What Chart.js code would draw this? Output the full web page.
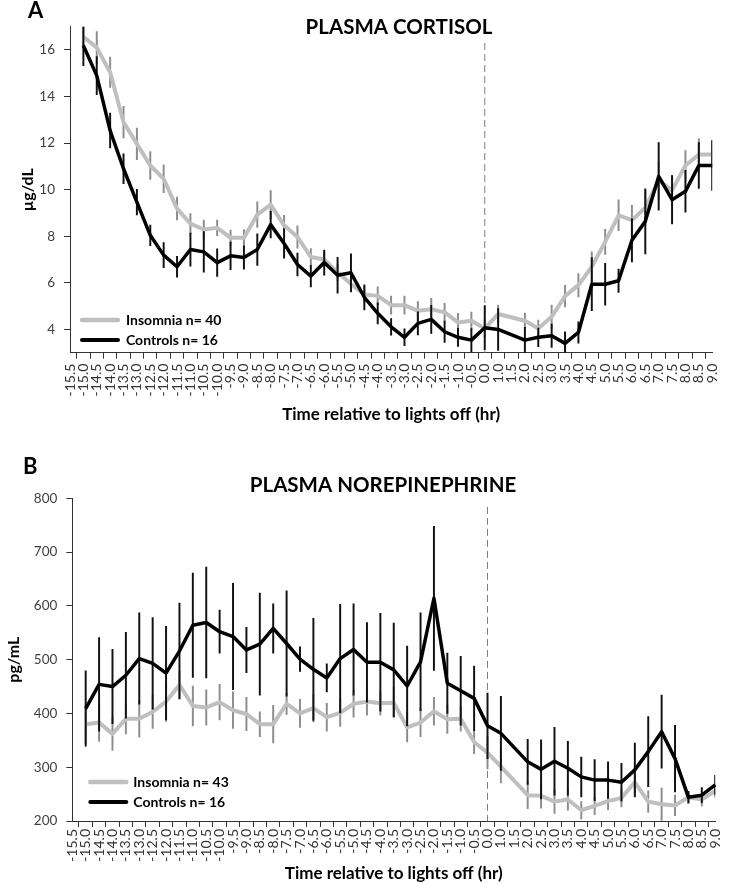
<!DOCTYPE html>
<html>
<head>
<meta charset="utf-8">
<script src="https://cdn.jsdelivr.net/npm/chart.js@4.4.1/dist/chart.umd.min.js"></script>
<style>
  body { margin: 0; background: #fff; }
  #wrap { position: relative; width: 734px; height: 884px; overflow: hidden; }
  #cortisolChart { position: absolute; left: 0; top: 0; }
  #norepiChart { position: absolute; left: 0; top: 440px; }
</style>
</head>
<body>
<div id="wrap">
  <canvas id="cortisolChart" width="734" height="430"></canvas>
  <canvas id="norepiChart" width="734" height="444"></canvas>
</div>
<script>
// x categories (hours relative to lights off) - note there is no 0.5
var hours = ['-15.5', '-15.0', '-14.5', '-14.0', '-13.5', '-13.0', '-12.5', '-12.0', '-11.5', '-11.0',
  '-10.5', '-10.0', '-9.5', '-9.0', '-8.5', '-8.0', '-7.5', '-7.0', '-6.5', '-6.0',
  '-5.5', '-5.0', '-4.5', '-4.0', '-3.5', '-3.0', '-2.5', '-2.0', '-1.5', '-1.0',
  '-0.5', '0.0', '1.0', '1.5', '2.0', '2.5', '3.0', '3.5', '4.0', '4.5',
  '5.0', '5.5', '6.0', '6.5', '7.0', '7.5', '8.0', '8.5', '9.0'];

// panel A - plasma cortisol (ug/dL), mean and SEM
var cortisolInsomnia = [null, 16.57, 16.1, 15.04, 12.9, 11.97, 11.04, 10.47, 9.19, 8.54, 8.29,
  8.36, 7.94, 7.94, 8.93, 9.36, 8.47, 7.97, 7.11, 7.0, 6.45,
  5.95, 5.5, 5.44, 5.04, 5.04, 4.8, 4.87, 4.73, 4.3, 4.37,
  4.04, 4.66, null, 4.37, 4.04, 4.54, 5.43, 5.9, 6.69, 7.76,
  8.9, 8.69, 9.23, 10.4, 9.97, 11.04, 11.51, 11.51];
var cortisolInsomniaSem = [null, 0.45, 0.69, 0.65, 0.68, 0.68, 0.6, 0.6, 0.49, 0.43, 0.4,
  0.33, 0.33, 0.35, 0.55, 0.6, 0.43, 0.48, 0.36, 0.32, 0.36,
  0.29, 0.35, 0.39, 0.39, 0.39, 0.39, 0.46, 0.39, 0.39, 0.37,
  0.36, 0.39, null, 0.33, 0.36, 0.5, 0.46, 0.5, 0.64, 0.54,
  0.66, 0.64, 0.75, 0.8, 0.64, 0.64, 0.68, 0.6];
var cortisolControls = [null, 16.19, 14.9, 12.54, 10.9, 9.47, 8.04, 7.19, 6.69, 7.43, 7.33,
  6.87, 7.16, 7.09, 7.43, 8.5, 7.69, 6.79, 6.29, 6.87, 6.33,
  6.43, 5.38, 4.69, 4.11, 3.66, 4.26, 4.43, 3.9, 3.66, 3.54,
  4.07, 4.0, null, 3.54, 3.66, 3.73, 3.4, 3.87, 5.94, 5.94,
  6.09, 7.83, 8.64, 10.57, 9.57, 9.93, 11.04, 11.04];
var cortisolControlsSem = [null, 0.86, 0.82, 0.75, 0.64, 0.55, 0.44, 0.54, 0.45, 0.71, 0.87,
  0.59, 0.59, 0.5, 0.68, 0.57, 0.63, 0.49, 0.46, 0.54, 0.77,
  0.82, 0.54, 0.45, 0.36, 0.36, 0.5, 0.6, 0.46, 0.39, 0.5,
  0.95, 0.9, null, 0.55, 0.4, 0.5, 0.5, 0.46, 1.14, 0.9,
  0.5, 0.93, 1.4, 1.45, 1.04, 0.9, 0.98, 1.07];
var cortisolTicks = [4, 6, 8, 10, 12, 14, 16];

// panel B - plasma norepinephrine (pg/mL), mean and SEM
var norepiInsomnia = [null, 380, 383, 362, 390, 390, 403, 422, 453, 414, 411,
  421, 406, 399, 380, 380, 418, 400, 410, 393, 401,
  418, 422, 419, 420, 374, 383, 404, 389, 390, 347,
  327, 301, null, 248, 247, 236, 240, 220, 228, 237,
  243, 272, 236, 231, 229, 244, 240, 256];
var norepiInsomniaSem = [null, 35, 35, 31, 28, 34, 31, 37, 25, 37, 33,
  33, 34, 31, 23, 35, 20, 26, 26, 26, 25,
  25, 25, 22, 28, 27, 26, 26, 26, 23, 22,
  30, 30, null, 25, 23, 22, 20, 16, 16, 16,
  17, 19, 20, 30, 19, 10, 12, 12];
var norepiControls = [null, 409, 454, 450, 471, 502, 493, 475, 516, 564, 569,
  552, 543, 518, 529, 558, 530, 501, 482, 466, 502,
  519, 495, 495, 481, 451, 496, 614, 456, 442, 428,
  377, 363, null, 310, 296, 311, 298, 282, 276, 276,
  272, 295, 329, 366, 316, 244, 248, 267];
var norepiControlsSem = [null, 70, 87, 69, 80, 85, 85, 87, 89, 97, 103,
  40, 99, 42, 95, 46, 98, 23, 95, 26, 101,
  85, 74, 91, 87, 74, 91, 134, 56, 64, 60,
  61, 69, null, 42, 55, 63, 50, 37, 38, 34,
  35, 50, 65, 68, 62, 11, 14, 18];
var norepiTicks = [200, 300, 400, 500, 600, 700, 800];

var FONT = 'Lato';
var GREY = '#bfbfbf';

// turn mean + sem into [low, high] for floating bars
function errorBars(values, sems) {
  return values.map(function (v, i) {
    if (v === null || sems[i] === null) return null;
    return [v - sems[i], v + sems[i]];
  });
}

// dashed vertical line at lights off
var lightsOff = {
  id: 'lightsOff',
  beforeDatasetsDraw: function (chart, args, opts) {
    var x = chart.scales.x.getPixelForValue(chart.data.labels.indexOf(opts.at));
    var top = chart.scales.y.getPixelForValue(opts.from);
    var ctx = chart.ctx;
    ctx.save();
    ctx.strokeStyle = '#7f7f7f';
    ctx.lineWidth = 1;
    ctx.setLineDash([7, 4]);
    ctx.beginPath();
    ctx.moveTo(x, top);
    ctx.lineTo(x, chart.chartArea.bottom);
    ctx.stroke();
    ctx.restore();
  }
};

// legend drawn inside the plot, bottom left
var insideLegend = {
  id: 'insideLegend',
  afterDatasetsDraw: function (chart, args, opts) {
    var ctx = chart.ctx;
    var area = chart.chartArea;
    ctx.save();
    ctx.font = 'bold 14px ' + FONT;
    ctx.textBaseline = 'middle';
    ctx.textAlign = 'left';
    ctx.lineCap = 'round';
    opts.items.forEach(function (idx, n) {
      var ds = chart.data.datasets[idx];
      var y = area.bottom - opts.rows[n];
      var x0 = area.left + opts.x;
      ctx.strokeStyle = ds.borderColor;
      ctx.lineWidth = ds.borderWidth + 0.5;
      ctx.beginPath();
      ctx.moveTo(x0, y);
      ctx.lineTo(x0 + opts.len, y);
      ctx.stroke();
      ctx.fillStyle = '#000';
      ctx.fillText(ds.label, x0 + opts.len + opts.textGap, y);
    });
    ctx.restore();
  }
};

// panel letter and title
var panelText = {
  id: 'panelText',
  afterDraw: function (chart, args, opts) {
    var ctx = chart.ctx;
    ctx.save();
    ctx.fillStyle = '#000';
    ctx.textBaseline = 'middle';
    ctx.textAlign = 'left';
    ctx.font = 'bold 22px ' + FONT;
    ctx.fillText(opts.letter, opts.letterX, opts.letterY);
    ctx.textAlign = 'center';
    ctx.font = 'bold 20.5px ' + FONT;
    ctx.fillText(opts.title, opts.titleX, opts.titleY);
    ctx.restore();
  }
};

function makeChart(id, p) {
  var datasets = [
    { type: 'line', label: p.controlsLabel, data: p.controls, borderColor: '#000', borderWidth: 3.5,
      pointRadius: 0, spanGaps: true, borderJoinStyle: 'round', tension: 0 },
    { type: 'bar', label: 'controls sem', data: errorBars(p.controls, p.controlsSem), backgroundColor: '#111',
      barThickness: 1.3, grouped: false, borderWidth: 0 },
    { type: 'line', label: p.insomniaLabel, data: p.insomnia, borderColor: GREY, borderWidth: 4,
      pointRadius: 0, spanGaps: true, borderJoinStyle: 'round', tension: 0 },
    { type: 'bar', label: 'insomnia sem', data: errorBars(p.insomnia, p.insomniaSem), backgroundColor: '#8c8c8c',
      barThickness: 1.3, grouped: false, borderWidth: 0 }
  ];

  return new Chart(document.getElementById(id), {
    type: 'line',
    data: { labels: hours, datasets: datasets },
    plugins: [lightsOff, insideLegend, panelText],
    options: {
      responsive: false,
      animation: false,
      events: [],
      layout: { padding: p.padding },
      plugins: {
        legend: { display: false },
        tooltip: { enabled: false },
        lightsOff: { at: '0.0', from: p.dashFrom },
        insideLegend: p.legend,
        panelText: p.text
      },
      scales: {
        x: {
          type: 'category',
          offset: false,
          grid: { display: true, drawOnChartArea: false, drawTicks: true, tickLength: 6, color: '#333', lineWidth: 1 },
          border: { display: true, color: '#333', width: 1 },
          ticks: { autoSkip: false, minRotation: 90, maxRotation: 90, padding: p.xPad, color: '#333',
            font: { family: FONT, size: 14 } },
          title: { display: true, text: 'Time relative to lights off (hr)', color: '#000',
            font: { family: FONT, size: 17, weight: 'bold' }, padding: { top: 0, bottom: p.xTitlePad } },
          afterFit: function (s) { s.height = p.xHeight; }
        },
        y: {
          min: p.yMin,
          max: p.yMax,
          afterBuildTicks: function (s) {
            s.ticks = p.yTicks.map(function (v) { return { value: v }; });
          },
          grid: { display: true, drawOnChartArea: false, drawTicks: true, tickLength: 6, color: '#333', lineWidth: 1 },
          border: { display: true, color: '#333', width: 1 },
          ticks: { padding: 9, color: '#404040', font: { family: FONT, size: 13.5 } },
          title: { display: true, text: p.yTitle, color: '#000',
            font: { family: FONT, size: 16, weight: 'bold' }, padding: { top: p.yTitlePad, bottom: 0 } },
          afterFit: function (s) { s.width = p.yWidth; }
        }
      }
    }
  });
}

makeChart('cortisolChart', {
  insomnia: cortisolInsomnia, insomniaSem: cortisolInsomniaSem,
  controls: cortisolControls, controlsSem: cortisolControlsSem,
  insomniaLabel: 'Insomnia n= 40', controlsLabel: 'Controls n= 16',
  yMin: 3, yMax: 17, yTicks: cortisolTicks, yTitle: 'µg/dL',
  padding: { top: 26.7, right: 10, bottom: 0, left: 0 },
  yWidth: 70, xHeight: 77.3, xPad: 5, xTitlePad: 5, yTitlePad: 18,
  dashFrom: 16.3,
  legend: { items: [2, 0], x: 12, len: 36, textGap: 8, rows: [32.7, 12.7] },
  text: { letter: 'A', letterX: 28, letterY: 11, title: 'PLASMA CORTISOL', titleX: 399, titleY: 27 }
});

makeChart('norepiChart', {
  insomnia: norepiInsomnia, insomniaSem: norepiInsomniaSem,
  controls: norepiControls, controlsSem: norepiControlsSem,
  insomniaLabel: 'Insomnia n= 43', controlsLabel: 'Controls n= 16',
  yMin: 200, yMax: 800, yTicks: norepiTicks, yTitle: 'pg/mL',
  padding: { top: 58.3, right: 7.3, bottom: 0, left: 0 },
  yWidth: 72.3, xHeight: 63, xPad: 2, xTitlePad: 0, yTitlePad: 4,
  dashFrom: 784,
  legend: { items: [2, 0], x: 18, len: 36, textGap: 7, rows: [39, 19] },
  text: { letter: 'B', letterX: 23, letterY: 27, title: 'PLASMA NOREPINEPHRINE', titleX: 383, titleY: 45 }
});
</script>
</body>
</html>
